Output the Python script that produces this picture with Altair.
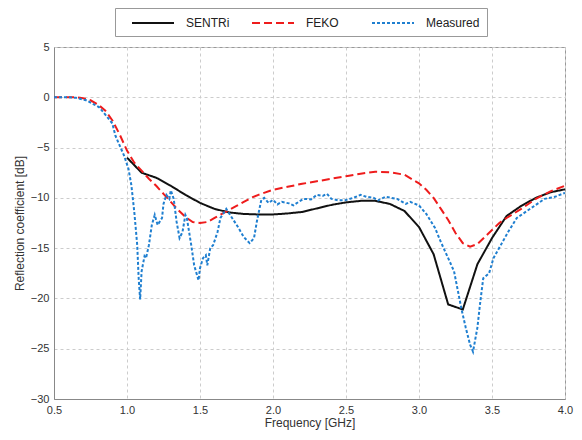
import altair as alt
import pandas as pd

# SENTRi (solid black)
sentri_f = [1.0, 1.1, 1.2, 1.3, 1.4, 1.5, 1.6, 1.7, 1.8, 1.9, 2.0, 2.1, 2.2, 2.3, 2.4,
            2.5, 2.6, 2.7, 2.8, 2.9, 3.0, 3.1, 3.2, 3.3, 3.4, 3.5, 3.6, 3.7, 3.8, 3.9, 4.0]
sentri_db = [-6.0, -7.5, -8.0, -8.8, -9.7, -10.5, -11.1, -11.45, -11.6, -11.65, -11.65,
             -11.55, -11.4, -11.05, -10.7, -10.45, -10.3, -10.3, -10.6, -11.3, -12.9,
             -15.6, -20.6, -21.1, -16.6, -14.0, -11.8, -10.8, -10.0, -9.45, -9.15]

# FEKO (dashed red)
feko_f = [0.5, 0.6, 0.65, 0.7, 0.75, 0.8, 0.85, 0.9, 0.95, 1.0, 1.05, 1.1, 1.15, 1.2, 1.25,
          1.3, 1.35, 1.4, 1.45, 1.5, 1.55, 1.6, 1.65, 1.7, 1.75, 1.8, 1.85, 1.9, 2.0, 2.1,
          2.2, 2.3, 2.4, 2.5, 2.6, 2.7, 2.8, 2.9, 3.0, 3.05, 3.1, 3.15, 3.2, 3.25, 3.3,
          3.35, 3.4, 3.45, 3.5, 3.55, 3.6, 3.7, 3.8, 3.9, 4.0]
feko_db = [0.0, 0.0, 0.0, -0.1, -0.3, -0.7, -1.3, -2.3, -3.7, -5.3, -6.5, -7.3, -8.1, -8.8,
           -9.6, -10.4, -11.2, -11.9, -12.4, -12.5, -12.4, -12.0, -11.6, -11.2, -10.8,
           -10.4, -10.0, -9.7, -9.2, -8.9, -8.6, -8.35, -8.1, -7.85, -7.6, -7.4, -7.45,
           -7.7, -8.55, -9.2, -10.0, -11.1, -12.2, -13.5, -14.5, -14.85, -14.6, -13.9,
           -13.2, -12.5, -12.0, -11.1, -10.1, -9.35, -8.8]

# Measured (dotted blue)
meas_f = [0.5, 0.6, 0.65, 0.72, 0.76, 0.81, 0.85, 0.9, 0.92, 0.95, 0.98, 1.01, 1.03, 1.05,
          1.07, 1.08, 1.09, 1.1, 1.12, 1.13, 1.15, 1.17, 1.19, 1.21, 1.24, 1.25, 1.27,
          1.29, 1.3, 1.32, 1.34, 1.36, 1.38, 1.4, 1.41, 1.44, 1.46, 1.49, 1.5, 1.52, 1.54,
          1.55, 1.57, 1.59, 1.62, 1.64, 1.68, 1.72, 1.76, 1.8, 1.84, 1.87, 1.89, 1.92,
          1.94, 1.97, 2.0, 2.03, 2.06, 2.11, 2.14, 2.18, 2.21, 2.26, 2.3, 2.34, 2.37, 2.4,
          2.45, 2.49, 2.55, 2.6, 2.64, 2.69, 2.72, 2.77, 2.81, 2.85, 2.91, 2.94, 3.0, 3.05,
          3.11, 3.15, 3.2, 3.24, 3.29, 3.32, 3.35, 3.37, 3.4, 3.42, 3.44, 3.48, 3.51, 3.56,
          3.61, 3.67, 3.73, 3.8, 3.86, 3.93, 4.0]
meas_db = [0.0, 0.0, -0.05, -0.3, -0.6, -1.0, -1.7, -2.6, -3.8, -4.8, -5.8, -7.1, -8.75,
           -11.4, -14.7, -18.0, -20.1, -17.3, -15.8, -16.0, -14.7, -12.7, -11.7, -12.7,
           -12.0, -10.6, -9.7, -10.1, -9.25, -10.1, -12.4, -14.0, -13.4, -11.7, -12.0,
           -14.7, -16.7, -18.2, -17.0, -16.0, -15.7, -16.7, -15.0, -14.7, -13.4, -12.0,
           -11.1, -12.0, -12.9, -13.9, -14.5, -14.0, -12.3, -10.2, -10.0, -10.5, -10.2,
           -10.65, -10.4, -10.55, -10.75, -10.35, -10.1, -10.15, -9.7, -9.8, -9.6, -10.1,
           -10.25, -10.25, -10.0, -9.7, -9.9, -10.0, -10.25, -9.9, -10.0, -10.1, -10.6,
           -10.4, -10.75, -11.6, -13.0, -14.4, -16.0, -17.3, -21.0, -22.9, -24.6, -25.3,
           -22.9, -20.3, -18.0, -17.5, -16.0, -14.7, -13.4, -12.0, -11.4, -10.7, -10.1,
           -9.9, -9.5]

series_names = ["SENTRi", "FEKO", "Measured"]
series_colors = ["#111111", "#ee1c1c", "#1f7fd0"]
series_dashes = [[1, 0], [8, 4], [3, 2]]
x_ticks = [0.5, 1.0, 1.5, 2.0, 2.5, 3.0, 3.5, 4.0]
y_ticks = [-30, -25, -20, -15, -10, -5, 0, 5]

rows = []
for name, fs, ds in [("SENTRi", sentri_f, sentri_db), ("FEKO", feko_f, feko_db),
                     ("Measured", meas_f, meas_db)]:
    for i, (f, d) in enumerate(zip(fs, ds)):
        rows.append({"series": name, "f": f, "db": d, "i": i})
df = pd.DataFrame(rows)

# long horizontal stroke drawn with a small symbol box (keeps the legend row short)
legend = alt.Legend(
    title=None, orient="none", legendX=61, legendY=-39, direction="horizontal",
    gridAlign="all", symbolType="M-3,0L3,0", symbolSize=196, symbolStrokeWidth=2,
    symbolOffset=23, labelOffset=25, columnPadding=2, padding=7,
    strokeColor="#999999", labelFont="Arial", labelFontSize=12, labelColor="#222222",
)

chart = alt.Chart(df).mark_line(strokeWidth=2, clip=True).encode(
    x=alt.X("f:Q", title="Frequency [GHz]",
            scale=alt.Scale(domain=[0.5, 4.0], nice=False),
            axis=alt.Axis(values=x_ticks, format=".1f", labelFlush=False)),
    y=alt.Y("db:Q", title="Reflection coefficient [dB]",
            scale=alt.Scale(domain=[-30, 5], nice=False),
            axis=alt.Axis(values=y_ticks, format="d", labelFlush=False)),
    color=alt.Color("series:N", scale=alt.Scale(domain=series_names, range=series_colors),
                    legend=legend),
    strokeDash=alt.StrokeDash("series:N",
                              scale=alt.Scale(domain=series_names, range=series_dashes),
                              legend=legend),
    order="i:Q",
).properties(
    width=511, height=352,
    autosize=alt.AutoSizeParams(type="none"),
    padding={"left": 46, "top": 39, "right": 9, "bottom": 33},
).configure_view(
    stroke="#999999", strokeWidth=1,
).configure_axis(
    grid=True, gridColor="#cccccc", gridDash=[3, 3], gridWidth=1,
    domainColor="#888888", domainWidth=1, ticks=False,
    labelFont="Arial", labelFontSize=11, labelColor="#333333", labelPadding=5,
    titleFont="Arial", titleFontSize=12, titleFontWeight="normal", titleColor="#333333",
).configure_axisY(
    titlePadding=4,
).configure_axisX(
    titlePadding=2,
)

chart.save("out.html", embed_options={"renderer": "svg", "actions": False})
